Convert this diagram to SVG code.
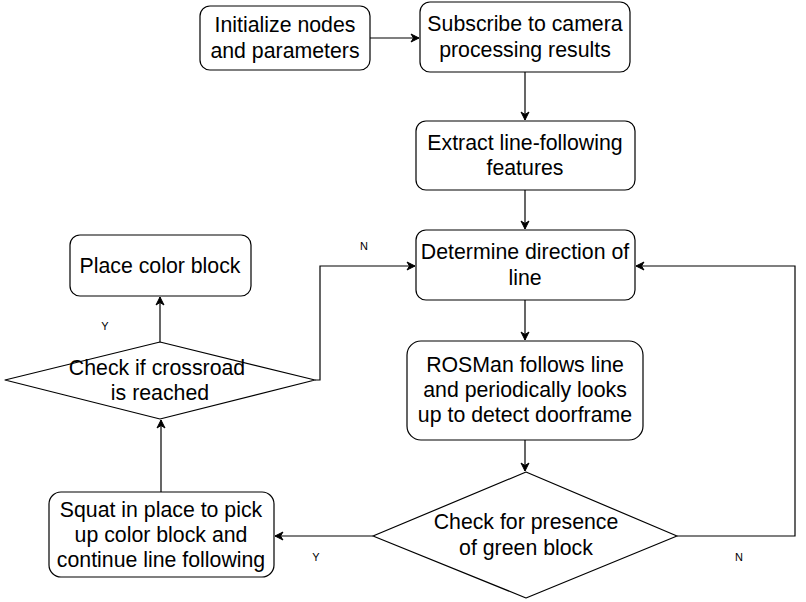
<svg xmlns="http://www.w3.org/2000/svg" width="806" height="602" viewBox="0 0 806 602">
<defs>
<style>
.box{fill:#fff;stroke:#000;stroke-width:1.2}
.t{font-family:"Liberation Sans",Arial,sans-serif;font-size:21.3px;fill:#000;text-anchor:middle}
.s{font-family:"Liberation Sans",Arial,sans-serif;font-size:11px;fill:#000;text-anchor:middle}
.e{fill:none;stroke:#000;stroke-width:1.2}
</style>
<marker id="ar" markerWidth="10" markerHeight="10" refX="9" refY="5" orient="auto" markerUnits="userSpaceOnUse">
<path d="M1,1 L9,5 L1,9 L3.5,5 Z" fill="#000" stroke="#000" stroke-width="1"/>
</marker>
</defs>
<rect width="806" height="602" fill="#fff"/>
<g id="connectors">
<path class="e" d="M370,38 L419,38" marker-end="url(#ar)"/>
<path class="e" d="M525,72 L525,120" marker-end="url(#ar)"/>
<path class="e" d="M525,190 L525,229" marker-end="url(#ar)"/>
<path class="e" d="M525,300 L525,340" marker-end="url(#ar)"/>
<path class="e" d="M525,440 L525,471" marker-end="url(#ar)"/>
<path class="e" d="M373,536 L275,536" marker-end="url(#ar)"/>
<path class="e" d="M677,536 L795,536 L795,266 L636,266" marker-end="url(#ar)"/>
<path class="e" d="M161,492 L161,420" marker-end="url(#ar)"/>
<path class="e" d="M160,342 L160,297" marker-end="url(#ar)"/>
<path class="e" d="M315,380 L320,380 L320,266 L415,266" marker-end="url(#ar)"/>
<text class="s" x="364" y="250">N</text>
<text class="s" x="105" y="330">Y</text>
<text class="s" x="316" y="561">Y</text>
<text class="s" x="739" y="561">N</text>
</g>
<g id="init">
<rect class="box" x="200" y="6" width="170" height="64" rx="10"/>
<text class="t" x="285" y="32">Initialize nodes</text>
<text class="t" x="285" y="58">and parameters</text>
</g>
<g id="subscribe">
<rect class="box" x="420" y="2" width="210" height="70" rx="10"/>
<text class="t" x="525" y="31">Subscribe to camera</text>
<text class="t" x="525" y="57">processing results</text>
</g>
<g id="extract">
<rect class="box" x="416" y="121" width="219" height="69" rx="10"/>
<text class="t" x="525" y="150">Extract line-following</text>
<text class="t" x="525" y="175">features</text>
</g>
<g id="determine">
<rect class="box" x="416" y="230" width="219" height="70" rx="10"/>
<text class="t" x="525" y="259">Determine direction of</text>
<text class="t" x="525" y="285">line</text>
</g>
<g id="rosman">
<rect class="box" x="407" y="341" width="236" height="99" rx="14"/>
<text class="t" x="525" y="372">ROSMan follows line</text>
<text class="t" x="525" y="397">and periodically looks</text>
<text class="t" x="525" y="422">up to detect doorframe</text>
</g>
<g id="green">
<path class="box" d="M526,472 L677,536 L526,598 L373,536 Z" stroke-linejoin="round"/>
<text class="t" x="526" y="529">Check for presence</text>
<text class="t" x="526" y="555">of green block</text>
</g>
<g id="squat">
<rect class="box" x="49" y="492" width="225" height="85" rx="12"/>
<text class="t" x="161" y="517">Squat in place to pick</text>
<text class="t" x="161" y="542">up color block and</text>
<text class="t" x="161" y="567">continue line following</text>
</g>
<g id="crossroad">
<path class="box" d="M160,342 L315,380 L160,419 L5,380 Z" stroke-linejoin="round"/>
<text class="t" x="157" y="375">Check if crossroad</text>
<text class="t" x="160" y="400">is reached</text>
</g>
<g id="place">
<rect class="box" x="70" y="235" width="181" height="61" rx="10"/>
<text class="t" x="160" y="273">Place color block</text>
</g>
</svg>
